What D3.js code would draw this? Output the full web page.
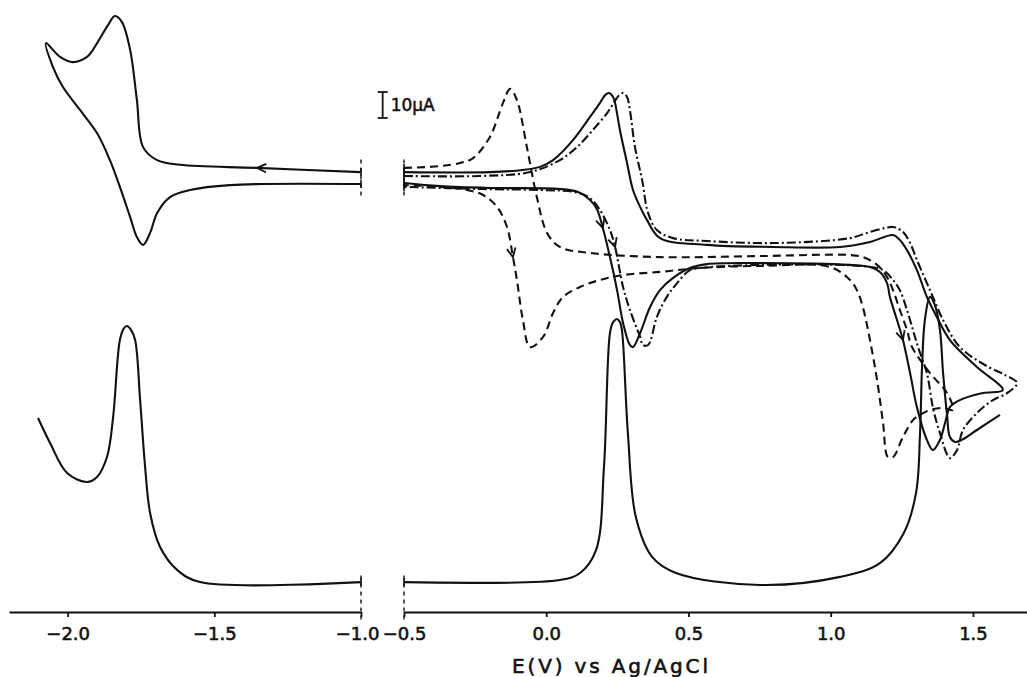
<!DOCTYPE html>
<html>
<head>
<meta charset="utf-8">
<script src="https://cdn.jsdelivr.net/npm/d3@7"></script>
<style>
  body { margin: 0; background: #fff; }
  svg { display: block; }
  text { font-family: "DejaVu Sans", sans-serif; fill: #111; }
</style>
</head>
<body>
<script>
// E (V vs Ag/AgCl), I (uA, arbitrary offset)

// left panel, E from -2.2 to -1.0
const solidCvLeft = [
  [-1.000,169.2],[-1.354,170.8],[-1.617,172.0],[-1.695,173.8],[-1.743,178.8],[-1.764,196.9],
  [-1.787,216.2],[-1.815,226.9],[-1.839,229.2],[-1.862,225.8],[-1.914,216.2],[-1.934,213.5],
  [-1.982,211.5],[-2.026,213.5],[-2.074,218.8],[-2.050,209.6],[-2.016,201.9],[-1.958,193.1],
  [-1.900,184.2],[-1.856,173.8],[-1.822,163.5],[-1.787,151.9],[-1.764,144.2],[-1.743,141.2],
  [-1.719,145.8],[-1.695,153.5],[-1.651,159.6],[-1.583,162.3],[-1.447,164.2],[-1.000,164.6]
];
const bottomLeft = [
  [-2.101,74.6],[-2.060,65.0],[-2.002,53.5],[-1.934,50.0],[-1.900,51.9],[-1.866,59.6],
  [-1.845,75.0],[-1.822,104.6],[-1.808,109.2],[-1.798,110.0],[-1.784,108.5],[-1.770,104.6],
  [-1.753,81.5],[-1.736,55.8],[-1.719,38.1],[-1.685,25.0],[-1.627,16.2],[-1.549,11.5],[-1.000,11.5]
];

// right panel, E from -0.5 to 1.69
const bottomRight = [
  [-0.500,11.5],[0.048,12.3],[0.119,15.0],[0.175,23.8],[0.203,55.8],[0.224,107.3],[0.235,111.5],
  [0.249,112.7],[0.259,111.5],[0.266,108.5],[0.287,68.8],[0.315,36.5],[0.372,21.2],[0.456,15.0],
  [0.751,10.4],[1.033,13.5],[1.173,18.8],[1.257,30.4],[1.300,45.8],[1.314,68.8],[1.321,94.2],
  [1.331,112.3],[1.349,121.2],[1.366,118.1],[1.384,108.5],[1.395,91.9],[1.409,75.8],[1.419,67.3],
  [1.437,65.4],[1.461,66.2],[1.514,70.0],[1.595,75.8]
];
const solidCvRight = [
  [-0.500,169.2],[-0.198,169.2],[-0.082,170.0],[-0.022,171.2],[0.024,173.8],[0.094,181.5],
  [0.154,190.4],[0.189,195.8],[0.207,198.8],[0.221,199.6],[0.235,198.1],[0.242,195.8],[0.259,185.4],
  [0.284,172.7],[0.305,162.3],[0.330,155.8],[0.354,150.8],[0.400,143.8],[0.565,141.2],[0.797,140.4],
  [1.033,140.4],[1.138,142.3],[1.219,145.0],[1.243,143.1],[1.268,139.2],[1.303,131.5],[1.338,121.2],
  [1.373,113.5],[1.419,104.6],[1.514,94.2],[1.605,85.4],
  [1.535,84.2],[1.454,81.5],[1.419,78.8],[1.402,72.7],[1.384,66.2],[1.359,62.3],[1.338,66.2],
  [1.303,78.8],[1.279,91.9],[1.254,104.6],[1.233,112.3],[1.208,121.2],[1.198,126.5],[1.173,130.8],
  [1.138,132.7],[1.068,133.5],[0.751,134.2],[0.565,133.8],[0.505,132.3],[0.446,128.5],[0.400,123.8],
  [0.365,117.3],[0.330,107.3],[0.305,101.9],[0.294,102.7],[0.270,111.2],[0.249,123.8],[0.224,136.5],
  [0.199,147.7],[0.178,155.0],[0.154,158.5],[0.112,161.5],[0.048,162.7],[-0.198,163.1],[-0.373,163.8],
  [-0.500,165.0]
];
const dashDotCvRight = [
  [-0.500,167.7],[-0.233,167.7],[-0.057,169.2],[0.048,173.8],[0.108,178.8],[0.164,185.4],[0.214,191.9],
  [0.235,195.4],[0.256,198.8],[0.270,199.6],[0.284,198.1],[0.294,193.1],[0.312,178.8],[0.337,166.2],
  [0.358,153.5],[0.389,146.9],[0.446,143.8],[0.565,142.7],[0.797,141.9],[1.068,143.8],[1.127,145.8],
  [1.191,147.7],[1.219,148.1],[1.254,146.2],[1.279,141.9],[1.303,135.4],[1.349,123.8],[1.395,112.3],
  [1.454,101.9],[1.542,95.0],[1.612,91.2],[1.655,88.1],
  [1.620,84.2],[1.570,81.5],[1.514,76.5],[1.465,70.0],[1.444,62.3],[1.419,59.2],[1.384,68.8],
  [1.359,78.8],[1.338,91.9],[1.307,101.9],[1.289,108.5],[1.268,116.2],[1.243,123.8],[1.219,127.7],
  [1.184,131.5],[1.103,133.1],[0.751,133.5],[0.540,132.3],[0.505,131.5],[0.460,126.5],[0.424,121.2],
  [0.389,113.5],[0.358,102.7],[0.340,102.7],[0.330,105.8],[0.294,116.2],[0.270,125.0],[0.242,140.4],
  [0.224,146.9],[0.189,154.6],[0.154,159.2],[0.101,161.5],[-0.022,162.3],[-0.233,162.7],[-0.500,163.5]
];
const dashedCvRight = [
  [-0.500,170.8],[-0.373,171.5],[-0.303,172.7],[-0.257,174.6],[-0.198,182.7],[-0.152,195.8],
  [-0.127,201.2],[-0.103,196.9],[-0.068,178.8],[-0.033,159.6],[0.003,145.8],[0.048,140.4],
  [0.154,138.1],[0.400,136.5],[0.751,136.9],[1.068,137.3],[1.113,136.5],[1.163,133.5],[1.198,128.8],
  [1.219,123.8],[1.243,116.2],[1.268,108.5],[1.286,101.9],[1.349,91.9],[1.409,84.2],[1.430,77.7],
  [1.395,78.5],[1.349,77.7],[1.314,75.8],[1.289,73.8],[1.254,67.3],[1.219,59.6],[1.201,59.6],
  [1.184,72.7],[1.163,89.2],[1.138,104.6],[1.113,117.3],[1.092,123.8],[1.068,127.7],[0.997,132.7],
  [0.751,133.1],[0.540,132.3],[0.400,130.8],[0.270,129.6],[0.189,127.7],[0.119,125.0],[0.059,121.2],
  [0.024,115.0],[-0.011,105.8],[-0.057,101.9],[-0.082,112.3],[-0.103,127.7],[-0.117,136.5],
  [-0.138,148.1],[-0.173,155.8],[-0.222,160.4],[-0.279,162.3],[-0.373,163.5],[-0.500,164.2]
];

// scan-direction arrows: [panel, from, tip]
const arrows = [
  ["L", [-1.30,170.6], [-1.354,170.8]],
  ["R", [0.178,155.0], [0.199,147.7]],
  ["R", [0.224,146.9], [0.242,140.4]],
  ["R", [-0.138,148.1], [-0.117,136.5]],
  ["R", [1.233,112.3], [1.254,104.6]]
];

const ticksLeft = [-2.0, -1.5, -1.0];
const ticksRight = [-0.5, 0.0, 0.5, 1.0, 1.5];
const scaleBar = [190, 200];   // 10 uA
const xTitle = "E(V) vs Ag/AgCl";

const width = 1027, height = 677;
const svg = d3.select("body").append("svg")
    .attr("width", width)
    .attr("height", height);

const xL = d3.scaleLinear().domain([-2.2, -1.0]).range([9, 361]);
const xR = d3.scaleLinear().domain([-0.5, 1.69]).range([404, 1027]);
const y = d3.scaleLinear().domain([0, 100]).range([612, 352]);

const lineL = d3.line().x(d => xL(d[0])).y(d => y(d[1])).curve(d3.curveCatmullRom.alpha(0.5));
const lineR = d3.line().x(d => xR(d[0])).y(d => y(d[1])).curve(d3.curveCatmullRom.alpha(0.5));

const curves = [
  { data: solidCvLeft,    line: lineL, dash: null },
  { data: bottomLeft,     line: lineL, dash: null },
  { data: bottomRight,    line: lineR, dash: null },
  { data: solidCvRight,   line: lineR, dash: null },
  { data: dashDotCvRight, line: lineR, dash: "9,3,2,3" },
  { data: dashedCvRight,  line: lineR, dash: "8,5" }
];

svg.append("g").selectAll("path")
  .data(curves)
  .enter().append("path")
    .attr("d", c => c.line(c.data))
    .attr("fill", "none")
    .attr("stroke", "#111")
    .attr("stroke-width", 2.1)
    .attr("stroke-linejoin", "round")
    .attr("stroke-dasharray", c => c.dash);

// little end bars where curves meet the axis break
const ends = [];
[[solidCvLeft, xL, -1.0], [bottomLeft, xL, -1.0], [bottomRight, xR, -0.5],
 [solidCvRight, xR, -0.5], [dashDotCvRight, xR, -0.5], [dashedCvRight, xR, -0.5]].forEach(([d, sx, eb]) => {
  [d[0], d[d.length - 1]].forEach(p => { if (p[0] === eb) ends.push([sx(p[0]), y(p[1])]); });
});
svg.append("g").selectAll("line")
  .data(ends)
  .enter().append("line")
    .attr("x1", d => d[0]).attr("x2", d => d[0])
    .attr("y1", d => d[1] - 4).attr("y2", d => d[1] + 4)
    .attr("stroke", "#111").attr("stroke-width", 1.6);

// dashed break lines
const breaks = [[xL(-1.0), 174, 159], [xR(-0.5), 174, 159], [xL(-1.0), 14, -4], [xR(-0.5), 14, -4]];
svg.append("g").selectAll("line")
  .data(breaks)
  .enter().append("line")
    .attr("x1", d => d[0]).attr("x2", d => d[0])
    .attr("y1", d => y(d[1])).attr("y2", d => y(d[2]))
    .attr("stroke", "#111").attr("stroke-width", 1.4)
    .attr("stroke-dasharray", "4,4");

// arrows
arrows.forEach(([panel, from, tip]) => {
  const sx = panel === "L" ? xL : xR;
  const x0 = sx(from[0]), y0 = y(from[1]), x1 = sx(tip[0]), y1 = y(tip[1]);
  const a = Math.atan2(y1 - y0, x1 - x0);
  const len = 10, spread = 0.45;
  const p = [a + Math.PI - spread, a + Math.PI + spread].map(t => [x1 + len * Math.cos(t), y1 + len * Math.sin(t)]);
  svg.append("path")
    .attr("d", `M${p[0][0]},${p[0][1]}L${x1},${y1}L${p[1][0]},${p[1][1]}`)
    .attr("fill", "none").attr("stroke", "#111").attr("stroke-width", 1.8);
});

// axes
const fmt = d => (d < 0 ? "\u2212" : "") + Math.abs(d).toFixed(1);
const axL = svg.append("g")
    .attr("transform", "translate(0," + y(0) + ")")
    .call(d3.axisBottom(xL).tickValues(ticksLeft).tickFormat(fmt).tickSize(5).tickSizeOuter(0).tickPadding(10));
const axR = svg.append("g")
    .attr("transform", "translate(0," + y(0) + ")")
    .call(d3.axisBottom(xR).tickValues(ticksRight).tickFormat(fmt).tickSize(5).tickSizeOuter(0).tickPadding(10));
[axL, axR].forEach(ax => {
  ax.select(".domain").attr("stroke", "#111").attr("stroke-width", 2.2);
  ax.selectAll(".tick line").attr("stroke", "#111").attr("stroke-width", 1.8);
  ax.selectAll(".tick text")
    .attr("font-size", 18).attr("font-family", "DejaVu Sans").attr("fill", "#111")
    .attr("stroke", "#111").attr("stroke-width", 0.6);
});
axL.selectAll(".tick text").filter(d => d === -1.0).attr("dx", -4);

svg.append("text")
    .attr("x", 512).attr("y", 673)
    .attr("font-size", 20)
    .attr("stroke", "#111").attr("stroke-width", 0.6)
    .attr("textLength", 196)
    .attr("lengthAdjust", "spacing")
    .text(xTitle);

// 10 uA scale bar
const sbx = xR(-0.575);
const sb = svg.append("g").attr("stroke", "#111").attr("stroke-width", 1.8);
sb.append("line").attr("x1", sbx).attr("x2", sbx).attr("y1", y(scaleBar[0])).attr("y2", y(scaleBar[1]));
scaleBar.forEach(v => sb.append("line").attr("x1", sbx - 5).attr("x2", sbx + 5).attr("y1", y(v)).attr("y2", y(v)));
svg.append("text")
    .attr("x", sbx + 8).attr("y", y(d3.mean(scaleBar)) + 6)
    .attr("font-size", 17)
    .attr("stroke", "#111").attr("stroke-width", 0.5)
    .text("10\u00b5A");
</script>
</body>
</html>
